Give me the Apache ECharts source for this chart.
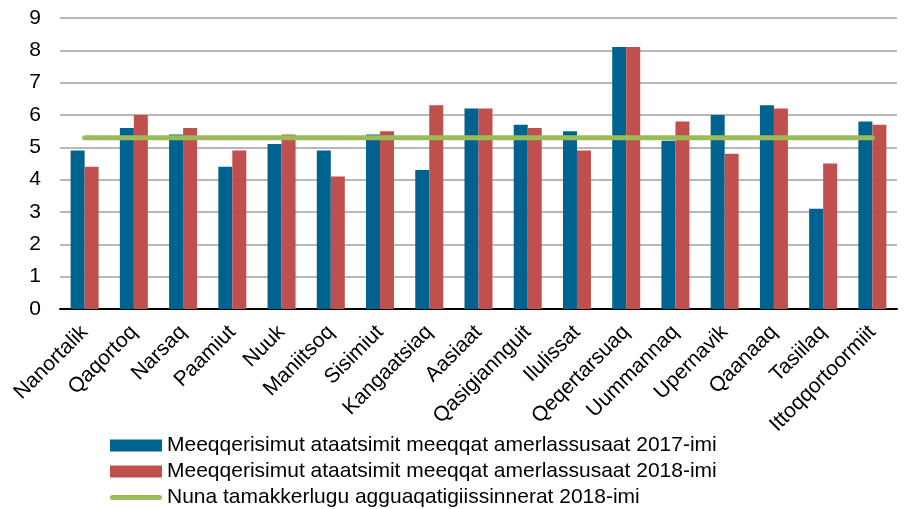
<!DOCTYPE html>
<html>
<head>
<meta charset="utf-8">
<script src="https://cdn.jsdelivr.net/npm/echarts@6/dist/echarts.min.js"></script>
<style>
    html, body { margin: 0; padding: 0; background: #fff; }
    #chart { width: 906px; height: 509px; }
</style>
</head>
<body>
<div id="chart"></div>
<script>
let towns = ['Nanortalik', 'Qaqortoq', 'Narsaq', 'Paamiut', 'Nuuk', 'Maniitsoq', 'Sisimiut', 'Kangaatsiaq', 'Aasiaat',
    'Qasigiannguit', 'Ilulissat', 'Qeqertarsuaq', 'Uummannaq', 'Upernavik', 'Qaanaaq', 'Tasiilaq', 'Ittoqqortoormiit'];
let values2017 = [4.9, 5.6, 5.4, 4.4, 5.1, 4.9, 5.4, 4.3, 6.2, 5.7, 5.5, 8.1, 5.2, 6.0, 6.3, 3.1, 5.8];
let values2018 = [4.4, 6.0, 5.6, 4.9, 5.4, 4.1, 5.5, 6.3, 6.2, 5.6, 4.9, 8.1, 5.8, 4.8, 6.2, 4.5, 5.7];
let nationalAvg = [5.3, 5.3, 5.3, 5.3, 5.3, 5.3, 5.3, 5.3, 5.3, 5.3, 5.3, 5.3, 5.3, 5.3, 5.3, 5.3, 5.3];
let yTicks = [0, 1, 2, 3, 4, 5, 6, 7, 8, 9];

let names = [
    'Meeqqerisimut ataatsimit meeqqat amerlassusaat 2017-imi',
    'Meeqqerisimut ataatsimit meeqqat amerlassusaat 2018-imi',
    'Nuna tamakkerlugu agguaqatigiissinnerat 2018-imi'
];

// legend icon for the line: thin bar with round ends inside a 52x12 box
let lineIcon = 'path://M0,0 M52,12 M2.5,3.5 L49.5,3.5 A2.5,2.5 0 0 1 49.5,8.5 L2.5,8.5 A2.5,2.5 0 0 1 2.5,3.5 Z';

let chart = echarts.init(document.getElementById('chart'));
let option = {
    backgroundColor: '#fff',
    animation: false,
    textStyle: { fontFamily: 'Liberation Sans, Arial, sans-serif' },
    grid: {
        left: 60,
        right: 9,
        top: 18,
        bottom: 200
    },
    legend: {
        orient: 'vertical',
        left: 105,
        top: 430,
        height: 90,
        itemWidth: 52,
        itemHeight: 12,
        itemGap: 5,
        textStyle: { color: '#000', fontSize: 21 },
        data: [
            { name: names[0], icon: 'rect' },
            { name: names[1], icon: 'rect' },
            { name: names[2], icon: lineIcon }
        ]
    },
    xAxis: {
        type: 'category',
        data: towns,
        axisTick: { show: false },
        axisLine: { lineStyle: { color: '#000', width: 2 } },
        axisLabel: {
            interval: 0,
            rotate: 45,
            margin: 20,
            color: '#000',
            fontSize: 21
        }
    },
    yAxis: {
        type: 'value',
        min: yTicks[0],
        max: yTicks[yTicks.length - 1],
        interval: 1,
        axisLine: { show: false },
        axisTick: { show: false },
        axisLabel: { color: '#000', fontSize: 21, margin: 19 },
        splitLine: { lineStyle: { color: '#a0a0a0', width: 1.5 } }
    },
    series: [
        {
            name: names[0],
            type: 'bar',
            data: values2017,
            barWidth: 14,
            barGap: 0,
            itemStyle: { color: '#00628f' }
        },
        {
            name: names[1],
            type: 'bar',
            data: values2018,
            barWidth: 14,
            barGap: 0,
            itemStyle: { color: '#c0504d' }
        },
        {
            name: names[2],
            type: 'line',
            data: nationalAvg,
            symbol: 'none',
            lineStyle: { color: '#9bbb59', width: 5, cap: 'round' },
            itemStyle: { color: '#9bbb59' },
            z: 5
        }
    ]
};
chart.setOption(option);
</script>
</body>
</html>
